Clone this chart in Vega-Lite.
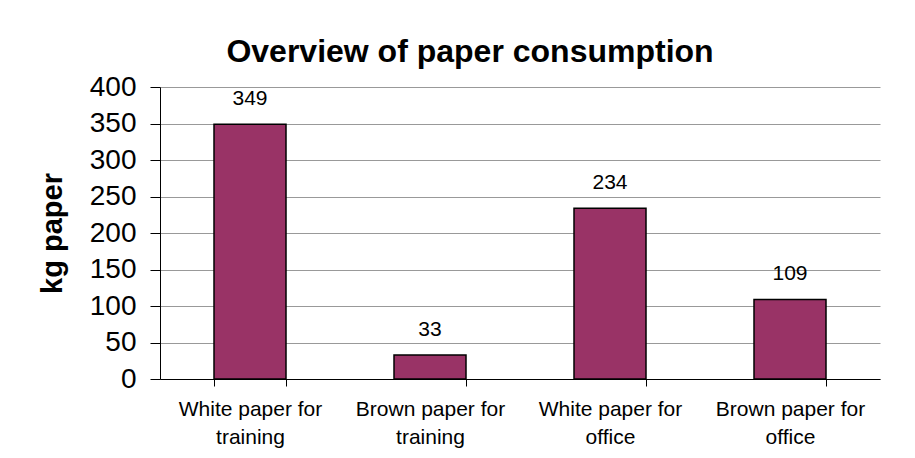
{
  "$schema": "https://vega.github.io/schema/vega-lite/v6.json",
  "autosize": "none",
  "width": 720,
  "height": 292,
  "padding": {"left": 160, "top": 87, "right": 35, "bottom": 79},
  "background": "white",
  "config": {
    "font": "Liberation Sans",
    "view": {"stroke": null}
  },
  "title": {
    "text": "Overview of paper consumption",
    "fontSize": 32,
    "fontWeight": "bold",
    "font": "Liberation Sans",
    "color": "black",
    "anchor": "middle",
    "dx": -50,
    "baseline": "alphabetic",
    "offset": -21
  },
  "data": {
    "values": [
      {"category": "White paper for training", "kg": 349},
      {"category": "Brown paper for training", "kg": 33},
      {"category": "White paper for office", "kg": 234},
      {"category": "Brown paper for office", "kg": 109}
    ]
  },
  "encoding": {
    "x": {
      "field": "category",
      "type": "nominal",
      "sort": null,
      "scale": {"paddingInner": 0.6, "paddingOuter": 0.3},
      "axis": {
        "title": null,
        "labelAngle": 0,
        "labelFontSize": 21,
        "labelColor": "black",
        "labelLimit": 0,
        "labelLineHeight": 28,
        "labelPadding": 12,
        "labelExpr": "[slice(datum.label, 0, indexof(datum.label, ' for ') + 4), slice(datum.label, indexof(datum.label, ' for ') + 5)]",
        "tickBand": "extent",
        "tickSize": 7,
        "tickColor": "black",
        "domainColor": "black",
        "domainWidth": 1,
        "grid": false
      }
    },
    "y": {
      "field": "kg",
      "type": "quantitative",
      "scale": {"domain": [0, 400], "nice": false},
      "axis": {
        "title": "kg paper",
        "titleFontSize": 29,
        "titleFontWeight": "bold",
        "titleColor": "black",
        "titlePadding": 22,
        "values": [0, 50, 100, 150, 200, 250, 300, 350, 400],
        "labelFontSize": 28,
        "labelColor": "black",
        "labelPadding": 14,
        "tickSize": 10,
        "tickColor": "black",
        "domainColor": "black",
        "grid": true,
        "gridColor": "#999999",
        "gridWidth": 1
      }
    }
  },
  "layer": [
    {
      "mark": {"type": "bar", "color": "#993366", "stroke": "black", "strokeWidth": 1.5}
    },
    {
      "mark": {"type": "text", "fontSize": 21, "color": "black", "baseline": "alphabetic", "dy": -19},
      "encoding": {"text": {"field": "kg", "type": "quantitative"}}
    }
  ]
}
